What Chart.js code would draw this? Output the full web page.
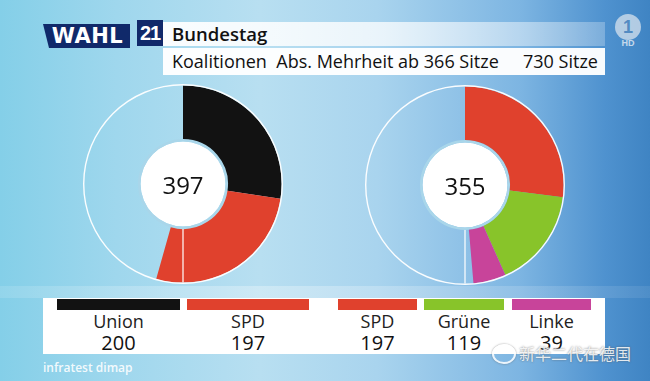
<!DOCTYPE html>
<html><head><meta charset="utf-8">
<script src="https://cdn.jsdelivr.net/npm/chart.js@4/dist/chart.umd.min.js"></script>
<style>
html,body{margin:0;padding:0;}
body{width:650px;height:381px;overflow:hidden;position:relative;font-family:"Open Sans",sans-serif;
background:linear-gradient(90deg,#84cfe8 0%,#9fd7ed 18%,#b8dff1 40%,#a9d4ee 58%,#7db5e2 80%,#4f92cf 93%,#3f84c3 100%);}
.abs{position:absolute;}
#band{left:0;top:286px;width:650px;height:12px;background:linear-gradient(90deg,rgba(255,255,255,0.12),rgba(255,255,255,0.3) 40%,rgba(255,255,255,0.08));}
#wahl{left:43px;top:24px;width:87px;height:24px;background:#10296a;clip-path:polygon(0 0,100% 0,100% 100%,6px 100%);color:#fff;font-family:"DejaVu Sans";font-weight:bold;font-size:21px;line-height:24px;text-align:center;letter-spacing:0.5px;padding-left:2px;box-sizing:border-box;}
#n21{left:137px;top:20px;width:26px;height:26px;background:#10296a;color:#fff;font-family:"Liberation Sans";font-weight:bold;font-size:20px;line-height:26px;text-align:center;letter-spacing:-1px;}
#row1{left:163px;top:22px;width:442px;height:24px;background:linear-gradient(90deg,rgba(255,255,255,0.95),rgba(255,255,255,0.75) 50%,rgba(255,255,255,0.25));}
#row2{left:163px;top:48px;width:442px;height:27px;background:rgba(255,255,255,0.96);}
.htxt{color:#111;white-space:nowrap;}
#t1{left:172px;top:21px;font-size:18.5px;font-weight:600;line-height:26px;}
#t2{left:172px;top:48px;font-size:18px;line-height:27px;}
#t3{left:523px;top:48px;font-size:18px;line-height:27px;}
#ard{left:615px;top:14px;width:26px;height:26px;border-radius:50%;background:rgba(225,232,240,0.7);color:rgba(70,130,190,0.9);font-family:"Liberation Sans";font-weight:bold;font-size:18px;line-height:26px;text-align:center;}
#hd{left:615px;top:38px;width:26px;text-align:center;color:rgba(230,238,245,0.8);font-family:"Liberation Sans";font-weight:bold;font-size:9px;}
.chartbox{position:absolute;width:200px;height:200px;}
.center{position:absolute;width:80px;text-align:center;font-size:24px;color:#111;line-height:30px;}
#panel{left:43px;top:298px;width:562px;height:56px;background:#fff;}
.bar{position:absolute;top:299px;height:11px;}
.lname{position:absolute;top:309px;text-align:center;font-size:18px;color:#222;line-height:24px;}
.lval{position:absolute;top:330px;text-align:center;font-size:20px;color:#111;line-height:26px;}
#src{left:43px;top:359px;font-size:12px;font-weight:600;color:rgba(255,255,255,0.9);}
#wm{left:519px;top:341px;font-family:"Noto Sans CJK SC";font-size:16px;color:rgba(255,255,255,0.85);text-shadow:0 0 2px rgba(90,90,90,0.8);white-space:nowrap;}
#wmi{left:492px;top:344px;width:20px;height:16px;border-radius:50%;border:2px solid rgba(255,255,255,0.85);box-shadow:0 0 2px rgba(90,90,90,0.7);}
</style></head>
<body>
<div id="band" class="abs"></div>
<div id="wahl" class="abs">WAHL</div>
<div id="n21" class="abs">21</div>
<div id="row1" class="abs"></div>
<div id="row2" class="abs"></div>
<div id="t1" class="abs htxt">Bundestag</div>
<div id="t2" class="abs htxt">Koalitionen&nbsp;&nbsp;Abs. Mehrheit ab 366 Sitze</div>
<div id="t3" class="abs htxt">730 Sitze</div>
<div id="ard" class="abs">1</div>
<div id="hd" class="abs">HD</div>

<div class="chartbox" style="left:83px;top:84px;"><canvas id="c1" width="200" height="200"></canvas></div>
<div class="chartbox" style="left:365px;top:85px;"><canvas id="c2" width="200" height="200"></canvas></div>
<div id="s1" class="center" style="left:143px;top:170px;"></div>
<div id="s2" class="center" style="left:425px;top:171px;"></div>

<div id="panel" class="abs"></div>
<div id="legend"></div>
<div id="src" class="abs">infratest dimap</div>
<div id="wmi" class="abs"></div>
<div id="wm" class="abs">新华二代在德国</div>

<script>
// ---- data ----
const TOTAL_SEATS = 730;
const MAJORITY_SEATS = 366;
const leftParties = ['Union', 'SPD'];
const leftSeats = [200, 197];
const rightParties = ['SPD', 'Grüne', 'Linke'];
const rightSeats = [197, 119, 39];

// ---- styles ----
const leftColors = ['#121212', '#e0412d'];
const rightColors = ['#e0412d', '#88c42a', '#c8449a'];
const legendLeftX = [[57, 180], [187, 309]];
const legendRightX = [[338, 417], [424, 504], [512, 591]];

const sum = a => a.reduce((s, v) => s + v, 0);

const majorityLine = {
  id: 'majorityLine',
  afterDatasetsDraw(chart) {
    const arc = chart.getDatasetMeta(1).data[0];
    if (!arc) return;
    const p = arc.getProps(['x', 'y', 'innerRadius', 'outerRadius'], true);
    const ang = -Math.PI / 2 + 2 * Math.PI * ((TOTAL_SEATS / 2) / TOTAL_SEATS);
    const ctx = chart.ctx;
    ctx.save();
    ctx.strokeStyle = 'rgba(255,255,255,0.6)';
    ctx.lineWidth = 2;
    ctx.beginPath();
    ctx.moveTo(p.x + Math.cos(ang) * p.innerRadius, p.y + Math.sin(ang) * p.innerRadius);
    ctx.lineTo(p.x + Math.cos(ang) * p.outerRadius, p.y + Math.sin(ang) * p.outerRadius);
    ctx.stroke();
    ctx.restore();
  }
};

function makeDonut(id, labels, seats, colors) {
  const rest = TOTAL_SEATS - sum(seats);
  return new Chart(document.getElementById(id), {
    type: 'doughnut',
    data: {
      labels: [...labels, ''],
      datasets: [
        { data: [TOTAL_SEATS], backgroundColor: ['rgba(255,255,255,0.95)'], borderWidth: 0, weight: 1.4 },
        { data: [...seats, rest], backgroundColor: [...colors, 'rgba(0,0,0,0)'], borderWidth: 0, weight: 53.6 },
        { data: [TOTAL_SEATS], backgroundColor: ['#a9d6ea'], borderWidth: 0, weight: 2.5 },
        { data: [TOTAL_SEATS], backgroundColor: ['#ffffff'], borderWidth: 0, weight: 42.5 }
      ]
    },
    options: {
      responsive: false, animation: false, cutout: 0, events: [],
      layout: { padding: 0 },
      plugins: { legend: { display: false }, tooltip: { enabled: false } }
    },
    plugins: [majorityLine]
  });
}

makeDonut('c1', leftParties, leftSeats, leftColors);
makeDonut('c2', rightParties, rightSeats, rightColors);
document.getElementById('s1').textContent = sum(leftSeats);
document.getElementById('s2').textContent = sum(rightSeats);

function legend(parties, seats, colors, xs) {
  const host = document.getElementById('legend');
  parties.forEach((p, i) => {
    const [a, b] = xs[i];
    const bar = document.createElement('div');
    bar.className = 'bar';
    bar.style.left = a + 'px'; bar.style.width = (b - a) + 'px'; bar.style.background = colors[i];
    host.appendChild(bar);
    const n = document.createElement('div');
    n.className = 'lname'; n.textContent = p;
    n.style.left = (a - 20) + 'px'; n.style.width = (b - a + 40) + 'px';
    host.appendChild(n);
    const v = document.createElement('div');
    v.className = 'lval'; v.textContent = seats[i];
    v.style.left = (a - 20) + 'px'; v.style.width = (b - a + 40) + 'px';
    host.appendChild(v);
  });
}
legend(leftParties, leftSeats, leftColors, legendLeftX);
legend(rightParties, rightSeats, rightColors, legendRightX);
</script>
</body></html>
